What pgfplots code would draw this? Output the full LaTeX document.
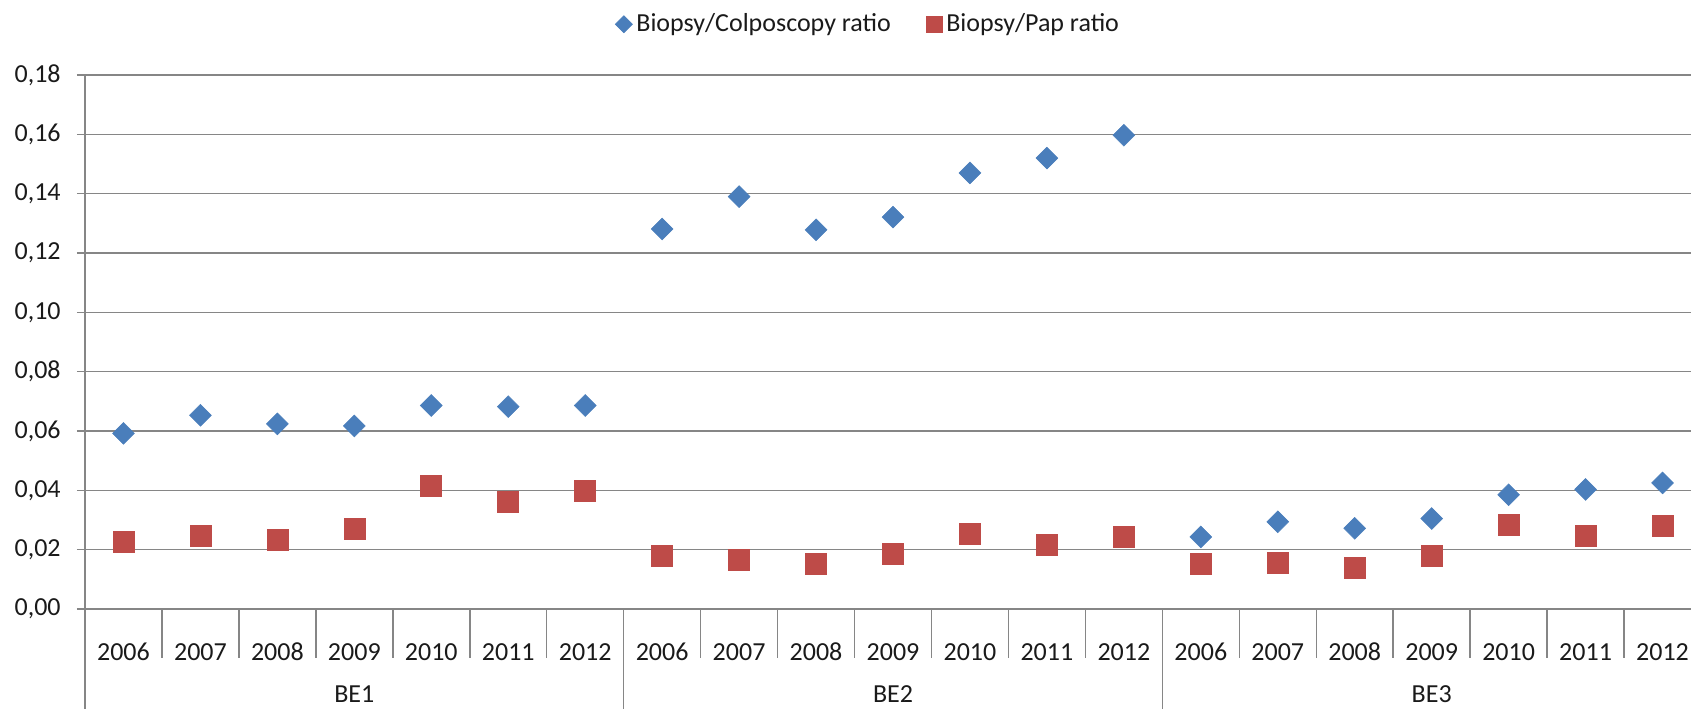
\documentclass[border=0pt]{standalone}
\usepackage{pgfplots}
\pgfplotsset{compat=1.18}
\usepackage{fontspec}
\setmainfont{Carlito}
\definecolor{cblue}{HTML}{4A7EBB}
\definecolor{cred}{HTML}{BE4B48}
\definecolor{cgrid}{HTML}{868686}
\definecolor{ctext}{HTML}{1A1A1A}
\begin{document}
\fontsize{13}{15.6}\selectfont
\color{ctext}
\begin{tikzpicture}
\begin{axis}[
  scale only axis, width=803pt, height=267pt,
  xmin=-0.5, xmax=20.37, ymin=0, ymax=0.18,
  clip=false,
  axis x line*=bottom, axis y line*=left,
  axis line style={-, draw=cgrid, line width=0.75pt},
  ymajorgrids, grid style={draw=cgrid, line width=0.75pt},
  ytick={0,0.02,0.04,0.06,0.08,0.10,0.12,0.14,0.16,0.18},
  scaled y ticks=false,
  tick align=outside, major tick length=4pt,
  y tick style={draw=cgrid, line width=0.75pt},
  x tick style={draw=none},
  xtick={0,1,2,3,4,5,6,7,8,9,10,11,12,13,14,15,16,17,18,19,20},
  xticklabels={2006,2007,2008,2009,2010,2011,2012,2006,2007,2008,2009,2010,2011,2012,2006,2007,2008,2009,2010,2011,2012},
  xticklabel style={anchor=center, yshift=-17.5pt},
  yticklabel style={/pgf/number format/.cd, fixed, fixed zerofill, precision=2, use comma, assume math mode=true, /tikz/.cd, anchor=east, inner sep=0pt, xshift=-8pt},
  legend columns=2,
  legend style={at={(0.330,1.095)}, anchor=west, draw=none, fill=none, inner xsep=0pt,
    nodes={inner xsep=2pt},
    /tikz/every odd column/.style={column sep=0pt},
    /tikz/every even column/.style={column sep=15.5pt}},
  legend image code/.code={\draw[#1,/tikz/every mark/.append style={scale=0.78}] plot coordinates {(0pt,0pt)};},
]
\addplot[only marks, mark=square*, mark size=3.85pt, mark options={rotate=45, fill=cblue, draw=cblue, line width=0.3pt}]
coordinates {
(0,0.0592) (1,0.0653) (2,0.0624) (3,0.0617) (4,0.0686) (5,0.0682) (6,0.0686)
(7,0.1281) (8,0.1390) (9,0.1278) (10,0.1321) (11,0.1470) (12,0.1520) (13,0.1597)
(14,0.0243) (15,0.0294) (16,0.0272) (17,0.0305) (18,0.0385) (19,0.0403) (20,0.0425)
};
\addlegendentry{Biopsy/Colposcopy ratio}
\addplot[only marks, mark=square*, mark size=5.25pt, mark options={fill=cred, draw=cred, line width=0.3pt}]
coordinates {
(0,0.0225) (1,0.0247) (2,0.0232) (3,0.0269) (4,0.0414) (5,0.0363) (6,0.0399)
(7,0.0178) (8,0.0167) (9,0.0152) (10,0.0185) (11,0.0254) (12,0.0218) (13,0.0243)
(14,0.0152) (15,0.0156) (16,0.0138) (17,0.0181) (18,0.0283) (19,0.0247) (20,0.0279)
};
\addlegendentry{Biopsy/Pap ratio}
\pgfplotsinvokeforeach{0.5,1.5,2.5,3.5,4.5,5.5,7.5,8.5,9.5,10.5,11.5,12.5,14.5,15.5,16.5,17.5,18.5,19.5}{
  \draw[cgrid, line width=0.75pt] (axis cs:#1,0) -- ++(0pt,-24.5pt);
}
\pgfplotsinvokeforeach{-0.5,6.5,13.5}{
  \draw[cgrid, line width=0.75pt] (axis cs:#1,0) -- ++(0pt,-50pt);
}
\node[yshift=-42.5pt] at (axis cs:3,0) {BE1};
\node[yshift=-42.5pt] at (axis cs:10,0) {BE2};
\node[yshift=-42.5pt] at (axis cs:17,0) {BE3};
\coordinate (SW) at (rel axis cs:0,0);
\coordinate (NE) at (rel axis cs:1,1);
\end{axis}
\pgfresetboundingbox
\path ([shift={(-42.5pt,-49.5pt)}]SW) rectangle ([shift={(0pt,37.5pt)}]NE);
\end{tikzpicture}
\end{document}
